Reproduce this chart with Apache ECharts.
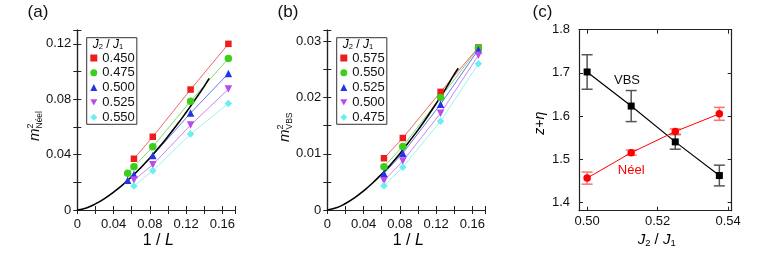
<!DOCTYPE html>
<html><head><meta charset="utf-8">
<script src="https://cdn.jsdelivr.net/npm/echarts@6/dist/echarts.min.js"></script>
<style>html,body{margin:0;padding:0;background:#fff}#c{width:764px;height:257px}</style>
</head><body><div id="c"></div>
<script>
// ---------- data ----------
// 1/L positions
const xL16 = [0.0625, 0.0833, 0.125, 0.1667];
const xL18 = [0.0556, 0.0625, 0.0833, 0.125, 0.1667];
// panel (a): m^2 Neel
const neelLabels = ['0.450', '0.475', '0.500', '0.525', '0.550'];
const mN_450 = [0.0370, 0.0529, 0.0870, 0.1200];
const mN_475 = [0.0265, 0.0313, 0.0457, 0.0786, 0.1094];
const mN_500 = [0.0214, 0.0257, 0.0394, 0.0700, 0.0986];
const mN_525 = [0.0216, 0.0327, 0.0613, 0.0873];
const mN_550 = [0.0173, 0.0284, 0.0548, 0.0770];
const curveA_x = [0, 0.01, 0.02, 0.03, 0.04, 0.05, 0.06, 0.07, 0.08, 0.09, 0.10, 0.11, 0.12, 0.13, 0.14, 0.1455];
const curveA_y = [0, 0.0015, 0.0044, 0.0082, 0.0129, 0.0182, 0.0241, 0.0305, 0.0376, 0.0451, 0.0531, 0.0615, 0.0704, 0.0797, 0.0893, 0.0950];
// panel (b): m^2 VBS
const vbsLabels = ['0.575', '0.550', '0.525', '0.500', '0.475'];
const mV_575 = [0.0092, 0.0128, 0.0210, 0.0289];
const mV_550 = [0.0077, 0.0113, 0.0200, 0.0288];
const mV_525 = [0.0065, 0.0101, 0.0188, 0.0285];
const mV_500 = [0.0052, 0.0087, 0.0172, 0.0275];
const mV_475 = [0.0043, 0.0076, 0.0158, 0.0260];
const curveB_x = [0, 0.01, 0.02, 0.03, 0.04, 0.05, 0.06, 0.07, 0.08, 0.09, 0.10, 0.11, 0.12, 0.13, 0.14, 0.1445];
const curveB_y = [0, 0.00039, 0.00115, 0.00216, 0.0034, 0.0048, 0.0064, 0.0081, 0.0100, 0.0121, 0.0142, 0.0165, 0.0189, 0.0214, 0.0241, 0.0252];
// panel (c): z + eta
const j2 = [0.5, 0.5125, 0.525, 0.5375];
const zVBS = [1.702, 1.623, 1.540, 1.462];
const eVBS = [0.040, 0.036, 0.017, 0.024];
const zNeel = [1.456, 1.515, 1.564, 1.605];
const eNeel = [0.014, 0.006, 0.006, 0.015];
// tick labels
const ticksAX = [0, 0.04, 0.08, 0.12, 0.16];
const ticksAY = [0, 0.04, 0.08, 0.12];
const ticksBY = [0, 0.01, 0.02, 0.03];
const ticksCX = [0.50, 0.52, 0.54];
const ticksCY = [1.4, 1.5, 1.6, 1.7, 1.8];

// ---------- styles ----------
const cols = ['#ee1c1c', '#3ccf1a', '#2234e6', '#b44cee', '#6aeef0'];
const lcols = ['#f25555', '#6ad850', '#5565ee', '#c277f0', '#8ef0f0'];
const syms = ['rect', 'circle', 'triangle', 'path://M0,0L10,0L5,8.66Z', 'diamond'];
const ssize = [6.5, 7.5, 7.5, 7.5, 7.5];
const FONT = '"Liberation Sans", Arial, sans-serif';
const axLine = { lineStyle: { color: '#222', width: 1.2 } };
const axTick = (extra) => Object.assign({ inside: true, length: 4, lineStyle: { color: '#222', width: 1 } }, extra || {});
const near = (v, arr) => arr.some(t => Math.abs(t - v) < 1e-9);
const fmt = (v, d) => (Math.abs(v) < 1e-12 ? '0' : v.toFixed(d));

function pair(prefix, label, xs, ys, i, axIdx) {
  const data = xs.map((x, k) => [x, ys[k]]);
  return [
    { type: 'line', name: prefix + label + '_l', xAxisIndex: axIdx, yAxisIndex: axIdx, data, showSymbol: false, symbol: 'none',
      lineStyle: { color: lcols[i], width: 0.9 }, z: 2, silent: true },
    { type: 'scatter', name: prefix + label, xAxisIndex: axIdx, yAxisIndex: axIdx, data, symbol: syms[i], symbolSize: ssize[i],
      itemStyle: { color: cols[i], opacity: 1 }, z: 5 }
  ];
}

const series = [];
const aSets = [[xL16, mN_450], [xL18, mN_475], [xL18, mN_500], [xL16, mN_525], [xL16, mN_550]];
aSets.forEach((s, i) => series.push(...pair('a', neelLabels[i], s[0], s[1], i, 0)));
series.push({ type: 'line', xAxisIndex: 0, yAxisIndex: 0, data: curveA_x.map((x, k) => [x, curveA_y[k]]), showSymbol: false, symbol: 'none', smooth: true,
  lineStyle: { color: '#000', width: 1.6 }, z: 3 });
const bSets = [mV_575, mV_550, mV_525, mV_500, mV_475];
bSets.forEach((s, i) => series.push(...pair('b', vbsLabels[i], xL16, s, i, 2)));
series.push({ type: 'line', xAxisIndex: 2, yAxisIndex: 2, data: curveB_x.map((x, k) => [x, curveB_y[k]]), showSymbol: false, symbol: 'none', smooth: true,
  lineStyle: { color: '#000', width: 1.6 }, z: 3 });

function errSeries(vals, errs, color) {
  return { type: 'custom', xAxisIndex: 4, yAxisIndex: 4, z: 2, silent: true,
    data: j2.map((x, k) => [x, vals[k], errs[k]]),
    renderItem(params, api) {
      const x = api.value(0), y = api.value(1), e = api.value(2);
      const t = api.coord([x, y + e]), b = api.coord([x, y - e]);
      const w = 5.5, st = { stroke: color, lineWidth: 1.5 };
      return { type: 'group', children: [
        { type: 'line', shape: { x1: t[0], y1: t[1], x2: b[0], y2: b[1] }, style: st },
        { type: 'line', shape: { x1: t[0] - w, y1: t[1], x2: t[0] + w, y2: t[1] }, style: st },
        { type: 'line', shape: { x1: b[0] - w, y1: b[1], x2: b[0] + w, y2: b[1] }, style: st }
      ] };
    } };
}
series.push(errSeries(zVBS, eVBS, '#555'));
series.push(errSeries(zNeel, eNeel, '#ff7070'));
series.push({ type: 'line', name: 'VBSc', xAxisIndex: 4, yAxisIndex: 4, data: j2.map((x, k) => [x, zVBS[k]]), symbol: 'rect', symbolSize: 7,
  itemStyle: { color: '#000' }, lineStyle: { color: '#000', width: 1.2 }, z: 4 });
series.push({ type: 'line', name: 'Neelc', xAxisIndex: 4, yAxisIndex: 4, data: j2.map((x, k) => [x, zNeel[k]]), symbol: 'circle', symbolSize: 7.5,
  itemStyle: { color: '#f00' }, lineStyle: { color: '#f00', width: 1 }, z: 4 });

// ---------- axes ----------
const lbl = { fontSize: 13, color: '#111', fontFamily: FONT };
function xPair(grid, min, max, interval, labelTicks, dec, margin, custom) {
  const base = { type: 'value', gridIndex: grid, min, max, splitLine: { show: false }, axisLine: axLine };
  if (interval) base.interval = interval;
  const bottom = Object.assign({}, base, { position: 'bottom',
    axisTick: axTick(custom ? { customValues: custom } : {}),
    axisLabel: Object.assign({}, lbl, { margin, formatter: v => near(v, labelTicks) ? fmt(v, dec) : '' }) });
  if (custom) bottom.axisLabel.customValues = custom;
  const top = Object.assign({}, base, { position: 'top', axisTick: axTick(custom ? { customValues: custom } : {}), axisLabel: { show: false } });
  return [bottom, top];
}
function yPair(grid, min, max, interval, labelTicks, dec, margin, custom) {
  const base = { type: 'value', gridIndex: grid, min, max, splitLine: { show: false }, axisLine: axLine };
  if (interval) base.interval = interval;
  const left = Object.assign({}, base, { position: 'left',
    axisTick: axTick(custom ? { customValues: custom } : {}),
    axisLabel: Object.assign({}, lbl, { margin, formatter: v => near(v, labelTicks) ? fmt(v, dec) : '' }) });
  if (custom) left.axisLabel.customValues = custom;
  const right = Object.assign({}, base, { position: 'right', axisTick: axTick(custom ? { customValues: custom } : {}), axisLabel: { show: false } });
  return [left, right];
}
const xAxis = [
  ...xPair(0, 0, 0.174, 0.02, ticksAX, 2, 8),
  ...xPair(1, 0, 0.174, 0.02, ticksAX, 2, 8),
  ...xPair(2, 0.4977, 0.541, null, ticksCX, 2, 4, ticksCX)
];
const yAxis = [
  ...yPair(0, 0, 0.13, 0.02, ticksAY, 2, 6),
  ...yPair(1, 0, 0.032, 0.005, ticksBY, 2, 6),
  ...yPair(2, 1.3805, 1.8, null, ticksCY, 1, 9, ticksCY)
];

const legendBase = { orient: 'vertical', selectedMode: false, padding: [13.8, 2, 0.6, 3.6], itemWidth: 7, itemHeight: 7, itemGap: 1.8,
  borderColor: '#333', borderWidth: 1, backgroundColor: '#fff',
  textStyle: { fontSize: 13, color: '#111', fontFamily: FONT }, formatter: n => n.slice(1) };

function yName(ox, oy, sub) {
  return { type: 'group', x: ox, y: oy, rotation: Math.PI / 2, children: [
    { type: 'text', x: 0, y: -1, style: { text: 'm', font: 'italic 15px ' + FONT, fill: '#111', align: 'left', verticalAlign: 'middle' } },
    { type: 'text', x: 12.5, y: -5.5, style: { text: '2', font: '9px ' + FONT, fill: '#111', align: 'left', verticalAlign: 'middle' } },
    { type: 'text', x: 12.5, y: 4, style: { text: sub, font: '8.5px ' + FONT, fill: '#111', align: 'left', verticalAlign: 'middle' } }
  ] };
}
const richJ = { j: { fontStyle: 'italic', fontSize: 12, fontFamily: FONT, color: '#111' },
  s: { fontSize: 7.5, fontFamily: FONT, color: '#111', verticalAlign: 'bottom', padding: [4, 0, 0, 0] },
  n: { fontSize: 12, fontFamily: FONT, color: '#111' } };
const richJbig = { j: { fontStyle: 'italic', fontSize: 15, fontFamily: FONT, color: '#111' },
  s: { fontSize: 9.5, fontFamily: FONT, color: '#111', verticalAlign: 'bottom', padding: [6, 0, 0, 0] },
  n: { fontSize: 15, fontFamily: FONT, color: '#111' } };
const richL = { n: { fontSize: 16, fontFamily: FONT, color: '#111' }, i: { fontSize: 16, fontStyle: 'italic', fontFamily: FONT, color: '#111' } };

const graphic = [
  { type: 'text', x: 38, y: 12.5, style: { text: '(a)', font: '17px ' + FONT, fill: '#111', align: 'center', verticalAlign: 'middle' } },
  { type: 'text', x: 288, y: 12.5, style: { text: '(b)', font: '17px ' + FONT, fill: '#111', align: 'center', verticalAlign: 'middle' } },
  { type: 'text', x: 542.5, y: 12, style: { text: '(c)', font: '17px ' + FONT, fill: '#111', align: 'center', verticalAlign: 'middle' } },
  { type: 'text', x: 108, y: 45, z: 100, style: { text: '{j|J}{s|2}{n| / }{j|J}{s|1}', rich: richJ, align: 'center', verticalAlign: 'middle' } },
  { type: 'text', x: 358, y: 45, z: 100, style: { text: '{j|J}{s|2}{n| / }{j|J}{s|1}', rich: richJ, align: 'center', verticalAlign: 'middle' } },
  { type: 'text', x: 158.3, y: 241, style: { text: '{n|1 / }{i|L}', rich: richL, align: 'center', verticalAlign: 'middle' } },
  { type: 'text', x: 408.3, y: 241, style: { text: '{n|1 / }{i|L}', rich: richL, align: 'center', verticalAlign: 'middle' } },
  { type: 'text', x: 656.7, y: 240, style: { text: '{j|J}{s|2}{n| / }{j|J}{s|1}', rich: richJbig, align: 'center', verticalAlign: 'middle' } },
  { type: 'text', x: 540, y: 123.3, rotation: Math.PI / 2, style: { text: '{i|z}{n|+}{i|η}', rich: { i: { fontSize: 14, fontStyle: 'italic', fontFamily: FONT, color: '#111' }, n: { fontSize: 14, fontFamily: FONT, color: '#111' } }, align: 'center', verticalAlign: 'middle' } },
  yName(36, 141, 'Néel'),
  yName(286, 142, 'VBS'),
  { type: 'text', x: 627, y: 80, style: { text: 'VBS', font: '13px ' + FONT, fill: '#111', align: 'center', verticalAlign: 'middle' } },
  { type: 'text', x: 631.2, y: 170, style: { text: 'Néel', font: '13px ' + FONT, fill: '#f00', align: 'center', verticalAlign: 'middle' } }
];

const chart = echarts.init(document.getElementById('c'), null, { renderer: 'canvas' });
chart.setOption({
  backgroundColor: '#fff',
  animation: false,
  grid: [
    { left: 77.3, top: 30, width: 157.7, height: 180 },
    { left: 327.3, top: 30, width: 157.7, height: 180 },
    { left: 579, top: 29.7, width: 152.7, height: 181 }
  ],
  xAxis, yAxis,
  legend: [
    Object.assign({}, legendBase, { left: 86.7, top: 37.7, data: neelLabels.map(l => 'a' + l) }),
    Object.assign({}, legendBase, { left: 336.7, top: 37.7, data: vbsLabels.map(l => 'b' + l) })
  ],
  series, graphic
});
</script></body></html>
